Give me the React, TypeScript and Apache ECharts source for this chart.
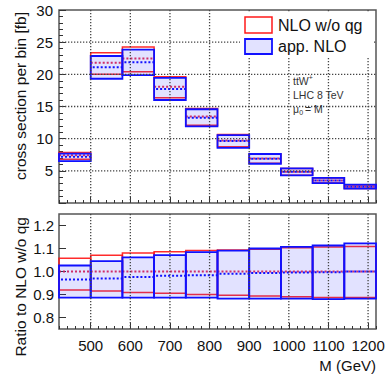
import React, { useEffect, useRef } from "react";
import * as echarts from "echarts";

// Bin edges (GeV)
const binEdges = [420, 500, 580, 660, 740, 820, 900, 980, 1060, 1140, 1220];

// Top panel: cross section per bin [fb]
const nloCenter = [7.42, 21.79, 22.45, 18.07, 13.45, 9.72, 6.93, 4.86, 3.51, 2.53];
const nloUp = [7.86, 23.36, 24.26, 19.62, 14.7, 10.63, 7.6, 5.36, 3.9, 2.81];
const nloDown = [6.8, 20.0, 20.4, 16.36, 12.08, 8.74, 6.18, 4.33, 3.11, 2.24];
const appCenter = [7.17, 21.12, 21.88, 17.72, 13.25, 9.64, 6.88, 4.84, 3.5, 2.53];
const appUp = [7.66, 22.85, 23.84, 19.45, 14.57, 10.55, 7.62, 5.38, 3.92, 2.85];
const appDown = [6.52, 19.31, 19.88, 16.01, 11.92, 8.57, 6.1, 4.29, 3.09, 2.23];

// Bottom panel: ratio to NLO w/o qg
const ratioNloCenter = [1, 1, 1, 1, 1, 1, 1, 1, 1, 1];
const ratioNloUp = [1.058, 1.071, 1.08, 1.086, 1.091, 1.094, 1.097, 1.103, 1.107, 1.109];
const ratioNloDown = [0.92, 0.915, 0.909, 0.905, 0.9, 0.897, 0.893, 0.89, 0.887, 0.887];
const ratioAppCenter = [0.965, 0.97, 0.976, 0.981, 0.984, 0.99, 0.993, 0.996, 0.997, 1.0];
const ratioAppUp = [1.026, 1.045, 1.061, 1.071, 1.084, 1.091, 1.1, 1.107, 1.113, 1.122];
const ratioAppDown = [0.886, 0.886, 0.886, 0.886, 0.886, 0.882, 0.882, 0.882, 0.88, 0.882];

// Tick values
const xMajorTicks = [500, 600, 700, 800, 900, 1000, 1100, 1200];
const yTopGrid = [5, 10, 15, 20, 25];
const ratioTicks = [0.8, 0.9, 1.0, 1.1, 1.2];

const FONT = "Liberation Sans, Arial, Helvetica, sans-serif";
const RED = "#ff1a1a";
const BLUE = "#1010ff";
const FILL = "rgba(60,60,255,0.15)";
const FRAME = "#555";
const GRID_COLOR = "#444";

function boxes(center: number[], up: number[], down: number[]) {
  return center.map((c, i) => [binEdges[i], binEdges[i + 1], down[i], up[i], c]);
}

function makeRender(kind: "red" | "blue") {
  return (params: any, api: any) => {
    const x0 = api.value(0);
    const x1 = api.value(1);
    const lo = api.value(2);
    const hi = api.value(3);
    const c = api.value(4);
    const tl = api.coord([x0, hi]);
    const br = api.coord([x1, lo]);
    const pc = api.coord([x0, c]);
    const rect = {
      type: "rect",
      shape: { x: tl[0], y: tl[1], width: br[0] - tl[0], height: br[1] - tl[1] },
      style:
        kind === "red"
          ? { fill: "none", stroke: "rgba(255,20,20,0.9)", lineWidth: 1.5 }
          : { fill: FILL, stroke: BLUE, lineWidth: 1.8 },
    };
    const line = {
      type: "line",
      shape: { x1: tl[0], y1: pc[1], x2: br[0], y2: pc[1] },
      style: {
        stroke: kind === "red" ? "rgba(230,20,60,0.9)" : BLUE,
        lineWidth: 2,
        lineDash: [2, 2],
        lineDashOffset: kind === "red" ? 0 : 2,
      },
    };
    return { type: "group", children: [rect, line] };
  };
}

// grid line through (value(0), value(1)); dir 'v' vertical, 'h' horizontal
function gridRender(dir: "v" | "h") {
  return (params: any, api: any) => {
    const cs = params.coordSys;
    const p = api.coord([api.value(0), api.value(1)]);
    const shape =
      dir === "v"
        ? { x1: p[0], y1: cs.y, x2: p[0], y2: cs.y + cs.height }
        : { x1: cs.x, y1: p[1], x2: cs.x + cs.width, y2: p[1] };
    return {
      type: "line",
      shape,
      style: { stroke: GRID_COLOR, lineWidth: 1.3, lineDash: [1.3, 1.7], fill: null },
    };
  };
}

export default function App() {
  const ref = useRef<HTMLDivElement>(null);
  useEffect(() => {
    if (!ref.current) return;
    const chart = echarts.init(ref.current, undefined, { renderer: "svg" });

    const minorX = (gridIndex: number) => ({
      type: "value",
      gridIndex,
      position: "bottom",
      min: 420,
      max: 1220,
      interval: 20,
      axisLine: { show: false },
      axisLabel: { show: false },
      splitLine: { show: false },
      axisTick: { show: true, inside: true, length: 3, lineStyle: { color: "#333", width: 1 } },
    });

    const majorX = (gridIndex: number, labels: boolean) => ({
      type: "value",
      gridIndex,
      position: "bottom",
      min: 420,
      max: 1220,
      axisLine: { show: false },
      splitLine: { show: false },
      axisTick: {
        show: true,
        inside: true,
        length: 6,
        customValues: xMajorTicks,
        lineStyle: { color: "#333", width: 1 },
      },
      axisLabel: {
        show: labels,
        customValues: xMajorTicks,
        formatter: (v: number) => String(v),
        margin: 9,
        fontFamily: FONT,
        fontSize: 15,
        color: "#111",
      },
    });

    const textStyle = (text: string, size: number, align = "left", fill = "#111") => ({
      text,
      font: `${size}px ${FONT}`,
      fill,
      align,
      verticalAlign: "middle",
      textAlign: align,
      textVerticalAlign: "middle",
    });

    chart.setOption({
      animation: false,
      backgroundColor: "#fff",
      grid: [
        { left: 59, top: 10, width: 317, height: 193, show: true, borderColor: FRAME, borderWidth: 1.5, backgroundColor: "rgba(255,255,255,0)" },
        { left: 59, top: 214, width: 317, height: 115, show: true, borderColor: FRAME, borderWidth: 1.5, backgroundColor: "rgba(255,255,255,0)" },
      ],
      xAxis: [minorX(0), majorX(0, false), minorX(1), majorX(1, true)],
      yAxis: [
        {
          type: "value",
          gridIndex: 0,
          min: 0,
          max: 30,
          interval: 5,
          axisLine: { show: false },
          axisTick: { show: true, inside: true, length: 7, lineStyle: { color: "#333" } },
          minorTick: { show: true, splitNumber: 5, length: 4, lineStyle: { color: "#333" } },
          splitLine: { show: false },
          axisLabel: {
            showMinLabel: false,
            margin: 6,
            fontFamily: FONT,
            fontSize: 15,
            color: "#111",
          },
        },
        {
          type: "value",
          gridIndex: 1,
          min: 0.75,
          max: 1.25,
          axisLine: { show: false },
          splitLine: { show: false },
          axisTick: { show: true, inside: true, length: 7, customValues: ratioTicks, lineStyle: { color: "#333" } },
          axisLabel: {
            customValues: ratioTicks,
            formatter: (v: number) => v.toFixed(1),
            margin: 5,
            fontFamily: FONT,
            fontSize: 15,
            color: "#111",
          },
        },
      ],
      series: [
        {
          type: "custom",
          name: "grid-v-top",
          xAxisIndex: 0,
          yAxisIndex: 0,
          z: 3,
          renderItem: gridRender("v"),
          encode: { x: 0, y: 1 },
          data: xMajorTicks.map((v) => [v, 15]),
        },
        {
          type: "custom",
          name: "grid-h-top",
          xAxisIndex: 0,
          yAxisIndex: 0,
          z: 3,
          renderItem: gridRender("h"),
          encode: { x: 0, y: 1 },
          data: yTopGrid.map((v) => [800, v]),
        },
        {
          type: "custom",
          name: "NLO w/o qg",
          xAxisIndex: 0,
          yAxisIndex: 0,
          renderItem: makeRender("red"),
          encode: { x: [0, 1], y: [2, 3, 4] },
          data: boxes(nloCenter, nloUp, nloDown),
        },
        {
          type: "custom",
          name: "app. NLO",
          xAxisIndex: 0,
          yAxisIndex: 0,
          renderItem: makeRender("blue"),
          encode: { x: [0, 1], y: [2, 3, 4] },
          data: boxes(appCenter, appUp, appDown),
        },
        {
          type: "custom",
          name: "grid-v-bottom",
          xAxisIndex: 2,
          yAxisIndex: 1,
          z: 3,
          renderItem: gridRender("v"),
          encode: { x: 0, y: 1 },
          data: xMajorTicks.map((v) => [v, 1.0]),
        },
        {
          type: "custom",
          name: "ratio NLO w/o qg",
          xAxisIndex: 2,
          yAxisIndex: 1,
          renderItem: makeRender("red"),
          encode: { x: [0, 1], y: [2, 3, 4] },
          data: boxes(ratioNloCenter, ratioNloUp, ratioNloDown),
        },
        {
          type: "custom",
          name: "ratio app. NLO",
          xAxisIndex: 2,
          yAxisIndex: 1,
          renderItem: makeRender("blue"),
          encode: { x: [0, 1], y: [2, 3, 4] },
          data: boxes(ratioAppCenter, ratioAppUp, ratioAppDown),
        },
      ],
      graphic: [
        // legend
        { type: "rect", shape: { x: 240, y: 13, width: 133, height: 45 }, style: { fill: "#fff" }, z: 10 },
        { type: "rect", shape: { x: 245, y: 17, width: 27, height: 16 }, style: { fill: "#fff", stroke: RED, lineWidth: 1.5 }, z: 11 },
        { type: "rect", shape: { x: 245, y: 39, width: 27, height: 15 }, style: { fill: FILL, stroke: BLUE, lineWidth: 1.8 }, z: 11 },
        { type: "text", x: 278, y: 25, z: 11, style: textStyle("NLO w/o qg", 16) },
        { type: "text", x: 278, y: 46.5, z: 11, style: textStyle("app. NLO", 16) },
        // annotation
        { type: "text", x: 293, y: 80.5, z: 11, style: textStyle("ttW", 10.5, "left", "#333") },
        { type: "line", z: 11, shape: { x1: 296, y1: 74.8, x2: 299, y2: 74.8 }, style: { stroke: "#555", lineWidth: 0.7 } },
        { type: "text", x: 308.8, y: 77, z: 11, style: textStyle("+", 7, "left", "#333") },
        { type: "text", x: 293, y: 94.5, z: 11, style: textStyle("LHC 8 TeV", 10.5, "left", "#333") },
        { type: "text", x: 293, y: 108.5, z: 11, style: textStyle("μ", 10.5, "left", "#333") },
        { type: "text", x: 299.2, y: 112.5, z: 11, style: textStyle("0", 7, "left", "#333") },
        { type: "text", x: 305, y: 108.5, z: 11, style: textStyle("= M", 10.5, "left", "#333") },
        // axis titles
        { type: "text", x: 20, y: 12, rotation: Math.PI / 2, z: 11, style: textStyle("cross section per bin [fb]", 15.5, "right") },
        { type: "text", x: 20, y: 217, rotation: Math.PI / 2, z: 11, style: textStyle("Ratio to NLO w/o qg", 15.5, "right") },
        { type: "text", x: 376, y: 365, z: 11, style: textStyle("M (GeV)", 15, "right") },
      ],
    });
    return () => chart.dispose();
  }, []);
  return <div ref={ref} style={{ position: "fixed", left: 0, top: 0, width: 392, height: 381 }} />;
}
